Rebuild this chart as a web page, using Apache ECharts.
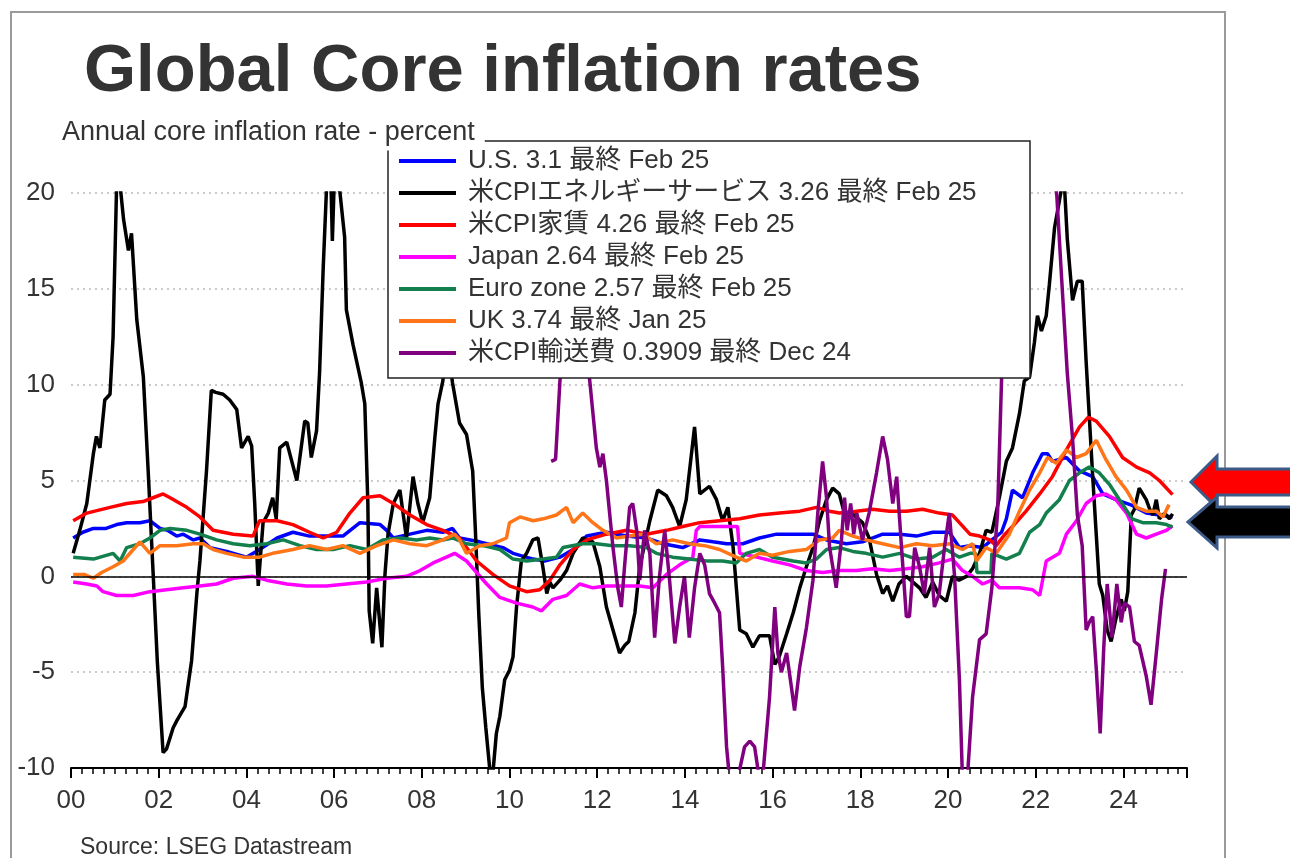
<!DOCTYPE html>
<html>
<head>
<meta charset="utf-8">
<script src="https://cdn.jsdelivr.net/npm/echarts@6/dist/echarts.min.js"></script>
<style>
  html, body { margin: 0; padding: 0; background: #fff; }
  #chart { width: 1290px; height: 858px; }
</style>
</head>
<body>
<div id="chart"></div>
<script>
// legend labels, in drawing order
var seriesNames = [
  'U.S. 3.1 最終 Feb 25',
  '米CPIエネルギーサービス 3.26 最終 Feb 25',
  '米CPI家賃 4.26 最終 Feb 25',
  'Japan 2.64 最終 Feb 25',
  'Euro zone 2.57 最終 Feb 25',
  'UK 3.74 最終 Jan 25',
  '米CPI輸送費 0.3909 最終 Dec 24'
];
var seriesColors = ['#0000ff', '#000000', '#ff0000', '#ff00ff', '#127f4c', '#ff7518', '#800080'];

// [decimal year, percent]
var usCore = [[2000.05,2.0],[2000.27,2.3],[2000.51,2.5],[2000.8,2.5],[2001.04,2.7],[2001.27,2.8],[2001.57,2.8],[2001.8,2.9],[2002.03,2.5],[2002.2,2.4],[2002.41,2.1],[2002.56,2.2],[2002.79,1.9],[2002.94,2.0],[2003.17,1.5],[2003.55,1.3],[2004.0,1.0],[2004.3,1.4],[2004.7,2.0],[2005.06,2.3],[2005.44,2.1],[2005.83,2.1],[2006.2,2.1],[2006.59,2.8],[2007.05,2.7],[2007.2,2.4],[2007.35,2.0],[2007.73,2.2],[2008.11,2.4],[2008.48,2.3],[2008.7,2.5],[2008.86,2.0],[2009.32,1.8],[2009.85,1.5],[2010.08,1.2],[2010.54,0.9],[2010.8,0.8],[2011.15,1.0],[2011.45,1.4],[2011.76,2.1],[2012.21,2.3],[2012.67,2.1],[2013.12,2.0],[2013.5,1.7],[2013.95,1.5],[2014.34,1.9],[2014.64,1.8],[2014.95,1.7],[2015.32,1.7],[2015.7,2.0],[2016.09,2.2],[2016.47,2.2],[2016.92,2.2],[2017.23,1.9],[2017.68,1.7],[2018.05,1.8],[2018.51,2.2],[2018.9,2.2],[2019.28,2.1],[2019.65,2.3],[2020.03,2.3],[2020.26,1.5],[2020.5,1.6],[2020.79,1.5],[2021.0,1.9],[2021.22,2.3],[2021.33,3.0],[2021.47,4.5],[2021.7,4.1],[2021.93,5.4],[2022.15,6.4],[2022.27,6.4],[2022.38,6.0],[2022.7,6.2],[2023.0,5.5],[2023.3,5.2],[2023.53,4.3],[2023.83,4.0],[2024.2,3.7],[2024.52,3.3],[2024.82,3.2],[2025.12,3.1]];

var energySvc = [[2000.05,1.2],[2000.2,2.4],[2000.36,3.8],[2000.51,6.4],[2000.58,7.3],[2000.66,6.7],[2000.77,9.2],[2000.89,9.5],[2000.96,12.5],[2001.04,20.4],[2001.12,20.4],[2001.2,18.6],[2001.31,17.0],[2001.38,17.9],[2001.5,13.4],[2001.65,10.4],[2001.76,5.5],[2001.87,0.3],[2001.97,-4.5],[2002.1,-9.2],[2002.18,-9.0],[2002.33,-7.9],[2002.42,-7.5],[2002.6,-6.8],[2002.75,-4.4],[2002.87,-0.9],[2002.94,0.8],[2003.09,5.5],[2003.2,9.7],[2003.3,9.6],[2003.47,9.5],[2003.62,9.2],[2003.78,8.7],[2003.89,6.7],[2004.04,7.3],[2004.12,6.8],[2004.19,3.8],[2004.27,-0.5],[2004.38,2.8],[2004.5,3.3],[2004.6,4.1],[2004.68,3.0],[2004.76,6.7],[2004.92,7.0],[2005.15,5.0],[2005.33,8.1],[2005.4,8.0],[2005.48,6.2],[2005.6,7.6],[2005.67,10.7],[2005.75,16.0],[2005.83,20.4],[2005.93,20.4],[2005.96,17.5],[2006.0,20.4],[2006.13,20.1],[2006.24,17.7],[2006.28,13.9],[2006.43,12.1],[2006.62,10.1],[2006.7,9.0],[2006.77,3.8],[2006.8,-1.8],[2006.88,-3.5],[2006.97,-0.6],[2007.09,-3.7],[2007.16,0.1],[2007.23,2.2],[2007.35,3.8],[2007.5,4.5],[2007.65,2.0],[2007.8,5.2],[2007.91,3.8],[2008.02,2.8],[2008.18,4.1],[2008.3,7.3],[2008.37,9.0],[2008.48,10.2],[2008.58,12.4],[2008.7,10.1],[2008.86,8.0],[2009.02,7.4],[2009.16,5.5],[2009.22,2.5],[2009.3,-2.0],[2009.38,-5.8],[2009.46,-7.9],[2009.56,-10.3],[2009.62,-10.3],[2009.7,-8.2],[2009.78,-7.3],[2009.89,-5.4],[2010.0,-4.9],[2010.08,-4.2],[2010.16,-1.6],[2010.27,0.8],[2010.39,1.2],[2010.53,1.9],[2010.65,2.0],[2010.76,0.5],[2010.85,-0.9],[2010.92,-0.3],[2010.99,-0.6],[2011.15,-0.2],[2011.3,0.3],[2011.45,1.2],[2011.67,2.0],[2011.9,1.8],[2012.06,0.5],[2012.21,-1.6],[2012.36,-2.8],[2012.51,-4.0],[2012.63,-3.6],[2012.72,-3.4],[2012.86,-1.9],[2012.97,0.5],[2013.2,2.9],[2013.38,4.5],[2013.58,4.2],[2013.72,3.6],[2013.88,2.6],[2014.03,4.0],[2014.22,7.8],[2014.34,4.3],[2014.56,4.7],[2014.72,4.0],[2014.86,2.9],[2014.98,3.6],[2015.1,1.5],[2015.25,-2.8],[2015.4,-3.0],[2015.55,-3.7],[2015.7,-3.1],[2015.93,-3.1],[2016.05,-4.6],[2016.15,-4.2],[2016.32,-3.0],[2016.47,-1.9],[2016.62,-0.6],[2016.77,0.5],[2016.92,1.5],[2017.07,2.9],[2017.23,4.0],[2017.37,4.6],[2017.52,4.3],[2017.68,2.9],[2017.8,3.3],[2018.05,2.8],[2018.2,2.0],[2018.37,0.1],[2018.51,-0.9],[2018.62,-0.5],[2018.74,-1.3],[2018.88,-0.4],[2019.05,0.0],[2019.2,-0.3],[2019.35,-0.6],[2019.5,-1.1],[2019.65,-0.3],[2019.8,-1.0],[2019.96,-1.3],[2020.1,0.0],[2020.25,-0.2],[2020.42,0.0],[2020.56,0.4],[2020.72,1.2],[2020.87,2.4],[2021.0,2.3],[2021.17,4.1],[2021.33,6.0],[2021.47,6.7],[2021.63,8.5],[2021.74,10.2],[2021.86,10.4],[2021.97,12.2],[2022.04,13.6],[2022.13,12.8],[2022.24,13.6],[2022.31,15.2],[2022.43,18.2],[2022.54,19.6],[2022.6,20.4],[2022.66,20.2],[2022.72,17.6],[2022.84,14.4],[2022.95,15.4],[2023.06,15.4],[2023.15,11.2],[2023.22,8.4],[2023.3,5.2],[2023.38,2.2],[2023.45,-0.4],[2023.53,-1.0],[2023.63,-2.8],[2023.72,-3.4],[2023.83,-2.2],[2023.95,-1.2],[2024.02,-1.8],[2024.1,-0.8],[2024.18,3.2],[2024.25,3.5],[2024.36,4.6],[2024.44,4.3],[2024.52,4.0],[2024.6,3.5],[2024.67,3.2],[2024.75,4.0],[2024.82,3.0],[2024.94,3.3],[2025.05,3.0],[2025.12,3.26]];

var rent = [[2000.05,2.9],[2000.36,3.3],[2000.89,3.6],[2001.27,3.8],[2001.64,3.9],[2001.87,4.1],[2002.1,4.3],[2002.26,4.1],[2002.64,3.6],[2002.94,3.1],[2003.24,2.4],[2003.7,2.2],[2004.15,2.1],[2004.3,2.9],[2004.7,2.9],[2005.06,2.7],[2005.44,2.3],[2005.75,2.0],[2006.06,2.3],[2006.36,3.3],[2006.66,4.1],[2007.05,4.2],[2007.35,3.8],[2007.73,3.2],[2008.11,2.7],[2008.48,2.4],[2008.86,2.0],[2009.25,0.8],[2009.62,0.1],[2010.0,-0.5],[2010.39,-0.8],[2010.69,-0.7],[2010.92,-0.2],[2011.15,0.6],[2011.45,1.4],[2011.76,1.9],[2012.21,2.2],[2012.67,2.4],[2013.12,2.2],[2013.58,2.4],[2013.95,2.6],[2014.34,2.8],[2014.79,2.9],[2015.25,3.0],[2015.7,3.2],[2016.16,3.3],[2016.62,3.4],[2017.0,3.6],[2017.3,3.4],[2017.52,3.3],[2017.91,3.4],[2018.28,3.5],[2018.67,3.4],[2019.05,3.4],[2019.42,3.5],[2019.8,3.3],[2020.1,3.2],[2020.26,2.8],[2020.5,2.2],[2020.72,2.1],[2020.95,1.9],[2021.1,1.6],[2021.3,2.2],[2021.47,2.6],[2021.78,3.4],[2022.09,4.3],[2022.38,5.2],[2022.7,6.6],[2023.0,7.8],[2023.2,8.3],[2023.38,8.1],[2023.68,7.3],[2023.98,6.2],[2024.3,5.7],[2024.6,5.4],[2024.82,5.0],[2025.12,4.26]];

var japan = [[2000.05,-0.3],[2000.36,-0.4],[2000.59,-0.5],[2000.73,-0.8],[2001.04,-1.0],[2001.42,-1.0],[2001.8,-0.8],[2002.18,-0.7],[2002.56,-0.6],[2002.94,-0.5],[2003.32,-0.4],[2003.7,-0.1],[2004.15,0.0],[2004.46,-0.2],[2004.92,-0.4],[2005.37,-0.5],[2005.83,-0.5],[2006.28,-0.4],[2006.74,-0.3],[2007.2,-0.1],[2007.65,0.0],[2007.96,0.3],[2008.26,0.7],[2008.56,1.0],[2008.75,1.2],[2009.02,0.8],[2009.25,0.2],[2009.48,-0.4],[2009.78,-1.1],[2010.16,-1.4],[2010.53,-1.6],[2010.73,-1.8],[2010.99,-1.2],[2011.3,-1.0],[2011.6,-0.4],[2011.9,-0.6],[2012.21,-0.5],[2012.58,-0.5],[2012.97,-0.5],[2013.27,-0.6],[2013.58,0.1],[2013.88,0.6],[2014.18,1.0],[2014.26,2.4],[2014.34,2.6],[2014.79,2.6],[2015.2,2.6],[2015.25,1.2],[2015.64,1.0],[2016.0,0.8],[2016.39,0.6],[2016.77,0.3],[2017.14,0.2],[2017.52,0.3],[2017.91,0.3],[2018.28,0.4],[2018.67,0.3],[2019.05,0.4],[2019.42,0.5],[2019.8,0.7],[2020.1,0.9],[2020.33,0.3],[2020.56,0.0],[2020.79,-0.4],[2021.0,-0.2],[2021.17,-0.6],[2021.63,-0.6],[2021.93,-0.7],[2022.09,-1.0],[2022.24,0.8],[2022.54,1.2],[2022.7,2.2],[2022.93,2.9],[2023.15,3.8],[2023.38,4.2],[2023.6,4.3],[2023.83,4.0],[2024.07,3.3],[2024.3,2.2],[2024.52,2.0],[2024.75,2.2],[2024.98,2.4],[2025.12,2.64]];

var euro = [[2000.05,1.0],[2000.51,0.9],[2000.96,1.2],[2001.12,0.8],[2001.27,1.5],[2001.57,1.7],[2001.8,2.0],[2002.03,2.4],[2002.26,2.5],[2002.64,2.4],[2002.94,2.2],[2003.32,1.9],[2003.7,1.7],[2004.08,1.6],[2004.46,1.7],[2004.84,1.9],[2005.22,1.6],[2005.6,1.4],[2005.98,1.4],[2006.36,1.6],[2006.74,1.4],[2007.11,1.9],[2007.5,2.0],[2007.88,1.9],[2008.18,2.0],[2008.48,1.9],[2008.7,2.0],[2009.02,1.7],[2009.4,1.6],[2009.78,1.4],[2010.08,0.9],[2010.39,0.8],[2010.77,0.9],[2011.07,1.0],[2011.22,1.5],[2011.67,1.7],[2011.98,1.7],[2012.36,1.6],[2012.74,1.6],[2013.12,1.5],[2013.35,1.2],[2013.72,1.0],[2014.1,0.9],[2014.49,0.8],[2014.86,0.8],[2015.17,0.7],[2015.4,1.2],[2015.7,1.4],[2016.0,1.0],[2016.47,0.8],[2016.77,0.7],[2017.0,0.9],[2017.23,1.4],[2017.52,1.5],[2017.83,1.3],[2018.13,1.2],[2018.51,1.0],[2018.9,1.2],[2019.28,0.9],[2019.65,1.0],[2019.96,1.4],[2020.26,1.0],[2020.5,1.2],[2020.63,1.2],[2020.66,0.2],[2020.98,0.2],[2021.0,1.2],[2021.33,0.9],[2021.63,1.2],[2021.86,2.3],[2022.09,2.7],[2022.24,3.3],[2022.54,4.0],[2022.77,5.0],[2023.0,5.4],[2023.22,5.7],[2023.45,5.4],[2023.68,4.8],[2023.91,4.0],[2024.2,3.0],[2024.44,2.8],[2024.75,2.8],[2024.98,2.7],[2025.12,2.57]];

var uk = [[2000.05,0.1],[2000.3,0.1],[2000.51,-0.1],[2000.7,0.2],[2000.96,0.5],[2001.19,0.8],[2001.42,1.4],[2001.57,1.8],[2001.8,1.2],[2002.03,1.6],[2002.41,1.6],[2002.79,1.7],[2003.02,1.7],[2003.24,1.4],[2003.55,1.2],[2003.93,1.0],[2004.3,1.0],[2004.6,1.2],[2005.06,1.4],[2005.44,1.6],[2005.83,1.4],[2006.2,1.6],[2006.59,1.2],[2006.97,1.6],[2007.35,1.9],[2007.73,1.7],[2008.11,1.6],[2008.48,1.9],[2008.75,2.2],[2008.86,1.9],[2009.02,1.2],[2009.32,1.6],[2009.62,1.7],[2009.93,2.0],[2010.0,2.8],[2010.24,3.1],[2010.54,2.9],[2010.77,3.0],[2011.07,3.2],[2011.3,3.6],[2011.45,2.8],[2011.67,3.3],[2011.9,2.8],[2012.13,2.4],[2012.44,2.0],[2012.74,2.1],[2013.04,2.2],[2013.35,1.7],[2013.72,1.9],[2014.1,1.7],[2014.45,1.6],[2014.79,1.4],[2015.17,1.0],[2015.4,0.8],[2015.7,1.2],[2016.0,1.1],[2016.39,1.3],[2016.77,1.4],[2017.07,1.9],[2017.37,2.0],[2017.52,2.4],[2017.83,2.1],[2018.13,1.9],[2018.51,1.7],[2018.9,1.5],[2019.28,1.7],[2019.65,1.6],[2020.03,1.7],[2020.33,1.4],[2020.56,1.7],[2020.65,0.8],[2020.87,1.5],[2021.1,1.2],[2021.4,2.2],[2021.63,3.4],[2021.86,4.5],[2022.09,5.4],[2022.27,6.2],[2022.47,5.9],[2022.7,6.6],[2022.93,6.2],[2023.15,6.4],[2023.38,7.1],[2023.6,6.1],[2023.83,5.2],[2024.07,4.5],[2024.3,3.6],[2024.52,3.4],[2024.75,3.4],[2024.9,3.1],[2025.04,3.74]];

var transport = [[2010.95,6.0],[2011.05,6.1],[2011.15,10.2],[2011.3,13.5],[2011.5,14.5],[2011.7,12.5],[2011.83,10.2],[2011.98,6.7],[2012.06,5.7],[2012.13,6.4],[2012.21,5.0],[2012.36,1.5],[2012.47,-0.6],[2012.55,-1.6],[2012.63,0.7],[2012.74,3.6],[2012.81,3.8],[2012.9,2.4],[2012.97,-0.2],[2013.08,2.4],[2013.2,1.2],[2013.31,-3.2],[2013.42,0.0],[2013.54,2.4],[2013.65,-0.2],[2013.77,-3.5],[2013.88,-1.6],[2013.99,0.0],[2014.1,-3.2],[2014.22,-0.6],[2014.34,1.2],[2014.45,0.6],[2014.56,-0.9],[2014.68,-1.4],[2014.79,-1.9],[2014.86,-4.7],[2014.95,-8.9],[2015.02,-10.6],[2015.2,-10.6],[2015.36,-8.9],[2015.48,-8.6],[2015.59,-8.9],[2015.7,-10.6],[2015.77,-10.6],[2015.93,-6.3],[2016.05,-1.6],[2016.12,-4.0],[2016.2,-5.0],[2016.32,-4.0],[2016.43,-5.8],[2016.5,-7.0],[2016.62,-4.7],[2016.77,-2.7],[2016.92,-0.2],[2017.03,3.3],[2017.14,6.0],[2017.23,4.1],[2017.3,1.5],[2017.45,-0.6],[2017.57,1.9],[2017.64,4.1],[2017.7,2.4],[2017.78,3.8],[2017.85,2.2],[2017.92,3.3],[2018.05,1.9],[2018.2,3.3],[2018.37,5.4],[2018.51,7.3],[2018.62,6.1],[2018.74,3.8],[2018.83,5.2],[2018.94,1.5],[2019.05,-2.1],[2019.12,-2.1],[2019.24,1.5],[2019.35,0.5],[2019.46,-0.9],[2019.58,1.5],[2019.69,-1.6],[2019.8,-0.9],[2019.92,1.5],[2020.03,3.3],[2020.15,0.0],[2020.26,-5.4],[2020.33,-10.6],[2020.44,-10.6],[2020.56,-6.3],[2020.72,-3.3],[2020.87,-3.0],[2021.0,-0.6],[2021.13,3.3],[2021.22,10.2],[2021.35,21.0],[2021.6,30.0],[2022.0,30.0],[2022.35,22.0],[2022.48,19.9],[2022.6,15.2],[2022.72,10.6],[2022.84,7.2],[2022.95,3.2],[2023.06,1.6],[2023.15,-2.8],[2023.22,-2.4],[2023.3,-2.1],[2023.38,-4.8],[2023.47,-8.2],[2023.55,-3.8],[2023.63,-0.4],[2023.74,-3.2],[2023.85,-0.4],[2023.95,-2.4],[2024.02,-1.4],[2024.14,-1.6],[2024.25,-3.4],[2024.36,-3.6],[2024.52,-5.2],[2024.63,-6.7],[2024.75,-4.0],[2024.87,-1.2],[2024.96,0.39]];

var seriesData = [usCore, energySvc, rent, japan, euro, uk, transport];

var fontFam = '"Liberation Sans", Arial, "Noto Sans CJK JP", sans-serif';

var chart = echarts.init(document.getElementById('chart'), null, { renderer: 'canvas' });

var series = seriesNames.map(function (name, i) {
  var s = {
    name: name,
    type: 'line',
    data: seriesData[i],
    symbol: 'none',
    showSymbol: false,
    clip: true,
    z: 2,
    itemStyle: { color: seriesColors[i] },
    lineStyle: { color: seriesColors[i], width: 3.5 }
  };
  if (i === 0) {
    // solid zero line
    s.markLine = {
      silent: true,
      symbol: ['none', 'none'],
      label: { show: false },
      lineStyle: { color: '#000', width: 1.5, type: 'solid' },
      data: [{ yAxis: 0 }]
    };
  }
  return s;
});

var option = {
  animation: false,
  textStyle: { fontFamily: fontFam },
  grid: { left: 71, right: 103, top: 193, bottom: 90, containLabel: false },
  xAxis: {
    type: 'value',
    min: 2000,
    max: 2025.45,
    interval: 2,
    axisLine: { onZero: false, lineStyle: { color: '#000', width: 2 } },
    axisTick: { length: 10, lineStyle: { color: '#000', width: 2 } },
    minorTick: { show: true, splitNumber: 8, length: 6, lineStyle: { color: '#000', width: 1.5 } },
    splitLine: { show: false },
    axisLabel: {
      color: '#333',
      fontSize: 26,
      margin: 20,
      showMaxLabel: false,
      formatter: function (v) {
        var y = Math.round(v) % 100;
        return (y < 10 ? '0' : '') + y;
      }
    }
  },
  yAxis: {
    type: 'value',
    min: -10,
    max: 20,
    interval: 5,
    axisLine: { show: false },
    axisTick: { show: false },
    axisLabel: { color: '#333', fontSize: 26, margin: 16 },
    splitLine: { lineStyle: { color: '#bbb', width: 1.5, type: [2, 4] } }
  },
  legend: {
    data: seriesNames,
    orient: 'vertical',
    left: 399,
    top: 148,
    padding: 0,
    itemGap: 6,
    itemWidth: 57,
    itemHeight: 4,
    icon: 'rect',
    selectedMode: false,
    z: 30,
    textStyle: { fontSize: 26, color: '#333', lineHeight: 26, padding: [0, 0, 0, 7], fontFamily: fontFam }
  },
  graphic: [
    { type: 'rect', z: 0, silent: true,
      shape: { x: 11, y: 12, width: 1214, height: 900 },
      style: { fill: 'none', stroke: '#9a9a9a', lineWidth: 2 } },
    { type: 'rect', z: 20, silent: true,
      shape: { x: 388, y: 141, width: 642, height: 237 },
      style: { fill: '#fff', stroke: '#222', lineWidth: 1.5 } },
    { type: 'text', z: 25, silent: true, x: 62, y: 133,
      style: { text: 'Annual core inflation rate - percent', fill: '#333',
        font: '27px ' + fontFam, verticalAlign: 'middle',
        backgroundColor: '#fff', padding: [3, 10, 5, 0] } },
    { type: 'text', z: 25, silent: true, x: 84, y: 73,
      style: { text: 'Global Core inflation rates', fill: '#333',
        font: 'bold 67px ' + fontFam, verticalAlign: 'middle' } },
    { type: 'text', z: 25, silent: true, x: 80, y: 848,
      style: { text: 'Source: LSEG Datastream', fill: '#333',
        font: '23px ' + fontFam, verticalAlign: 'middle' } },
    { type: 'polygon', z: 25, silent: true,
      shape: { points: [[1191, 482], [1217, 456], [1217, 469], [1294, 469], [1294, 495], [1217, 495], [1217, 508]] },
      style: { fill: '#ff0000', stroke: '#3c5a87', lineWidth: 3, lineJoin: 'miter' } },
    { type: 'polygon', z: 25, silent: true,
      shape: { points: [[1188, 522], [1217, 497], [1217, 507], [1294, 507], [1294, 537], [1217, 537], [1217, 548]] },
      style: { fill: '#000000', stroke: '#3c5a87', lineWidth: 3, lineJoin: 'miter' } }
  ],
  series: series
};

chart.setOption(option);
window.addEventListener('resize', chart.resize);
</script>
</body>
</html>
